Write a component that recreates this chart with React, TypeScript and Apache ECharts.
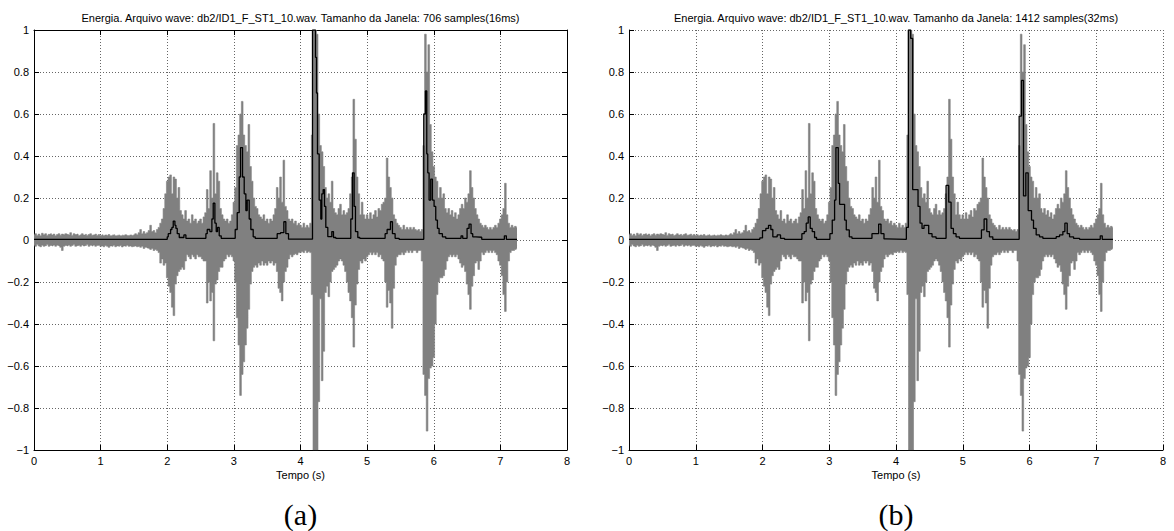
import React, { useEffect, useRef } from "react";
import * as echarts from "echarts";

// ---- data ----
const DT = 0.025; // seconds between envelope samples (starting at t = 0)

// upper envelope of the waveform (one value every DT seconds, 0 .. 7.25 s)
const WAVE_UPPER = [
  0.025, 0.03, 0.022, 0.028, 0.02, 0.032, 0.025, 0.03, 0.022, 0.027, 0.03, 0.024, 0.028, 0.02, 0.026, 0.03, 0.023, 0.028, 0.025, 0.03,
  0.027, 0.024, 0.035, 0.022, 0.03, 0.026, 0.028, 0.022, 0.025, 0.03, 0.024, 0.027, 0.022, 0.026, 0.03, 0.023, 0.025, 0.028, 0.022, 0.026,
  0.022, 0.025, 0.02, 0.024, 0.021, 0.026, 0.02, 0.023, 0.025, 0.02, 0.022, 0.024, 0.02, 0.023, 0.021, 0.025, 0.022, 0.02, 0.024, 0.022,
  0.025, 0.03, 0.025, 0.035, 0.05, 0.03, 0.04, 0.03, 0.035, 0.045, 0.07, 0.04, 0.045, 0.035, 0.05, 0.06, 0.08, 0.1, 0.15, 0.22,
  0.28, 0.3, 0.31, 0.22, 0.3, 0.29, 0.2, 0.25, 0.14, 0.12, 0.1, 0.14, 0.09, 0.1, 0.08, 0.12, 0.09, 0.1, 0.08, 0.09,
  0.1, 0.08, 0.11, 0.13, 0.24, 0.15, 0.33, 0.2, 0.555, 0.22, 0.32, 0.28, 0.15, 0.12, 0.1, 0.09, 0.1, 0.08, 0.09, 0.12,
  0.18, 0.25, 0.45, 0.5, 0.6, 0.66, 0.5, 0.45, 0.42, 0.55, 0.35, 0.28, 0.2, 0.16, 0.15, 0.12, 0.11, 0.1, 0.12, 0.09,
  0.1, 0.08, 0.1, 0.09, 0.12, 0.15, 0.25, 0.2, 0.3, 0.18, 0.38, 0.16, 0.14, 0.1, 0.09, 0.1, 0.08, 0.09, 0.07, 0.08,
  0.07, 0.06, 0.08, 0.06, 0.07, 0.06, 0.08, 0.5, 1.0, 1.0, 0.98, 0.6, 0.45, 0.42, 0.35, 0.25, 0.2, 0.22, 0.18, 0.28,
  0.15, 0.13, 0.12, 0.15, 0.17, 0.12, 0.14, 0.12, 0.13, 0.15, 0.22, 0.3, 0.67, 0.48, 0.3, 0.22, 0.12, 0.18, 0.12, 0.1,
  0.12, 0.1, 0.13, 0.1, 0.12, 0.14, 0.11, 0.15, 0.14, 0.17, 0.18, 0.2, 0.39, 0.3, 0.25, 0.2, 0.12, 0.1, 0.08, 0.07,
  0.06, 0.05, 0.07, 0.05, 0.06, 0.05, 0.06, 0.05, 0.06, 0.05, 0.045, 0.05, 0.04, 0.05, 0.45, 0.98, 0.8, 0.93, 0.55, 0.42,
  0.35, 0.3, 0.28, 0.2, 0.25, 0.2, 0.22, 0.15, 0.13, 0.15, 0.12, 0.14, 0.11, 0.13, 0.1, 0.12, 0.15, 0.17, 0.15, 0.2,
  0.18, 0.22, 0.33, 0.25, 0.2, 0.15, 0.12, 0.1, 0.08, 0.07, 0.06, 0.07, 0.06, 0.05, 0.06, 0.05, 0.06, 0.07, 0.06, 0.08,
  0.1, 0.12, 0.15, 0.27, 0.12, 0.08, 0.06, 0.07, 0.06, 0.065, 0.06,
];

// lower envelope of the waveform (same sampling)
const WAVE_LOWER = [
  -0.025, -0.03, -0.022, -0.028, -0.032, -0.025, -0.03, -0.027, -0.022, -0.03, -0.026, -0.028, -0.024, -0.03, -0.025, -0.028, -0.035, -0.05, -0.03, -0.026,
  -0.028, -0.024, -0.03, -0.026, -0.022, -0.03, -0.027, -0.025, -0.03, -0.024, -0.028, -0.026, -0.022, -0.03, -0.025, -0.028, -0.024, -0.03, -0.026, -0.025,
  -0.03, -0.028, -0.032, -0.026, -0.03, -0.035, -0.028, -0.03, -0.025, -0.032, -0.028, -0.03, -0.026, -0.033, -0.028, -0.03, -0.025, -0.03, -0.028, -0.032,
  -0.03, -0.028, -0.032, -0.03, -0.035, -0.03, -0.04, -0.035, -0.038, -0.04, -0.045, -0.04, -0.05, -0.045, -0.05, -0.06, -0.11, -0.09, -0.12, -0.11,
  -0.18, -0.22, -0.25, -0.32, -0.36, -0.21, -0.17, -0.15, -0.14, -0.13, -0.14, -0.1, -0.07, -0.08, -0.09, -0.07, -0.08, -0.09, -0.07, -0.08,
  -0.08, -0.09, -0.1, -0.1, -0.3, -0.2, -0.29, -0.25, -0.48, -0.21, -0.19, -0.15, -0.13, -0.13, -0.1, -0.09, -0.07, -0.08, -0.07, -0.08,
  -0.1, -0.2, -0.37, -0.5, -0.74, -0.64, -0.58, -0.5, -0.42, -0.33, -0.21, -0.15, -0.13, -0.12, -0.13, -0.11, -0.12, -0.1, -0.12, -0.11,
  -0.12, -0.1, -0.11, -0.1, -0.12, -0.11, -0.15, -0.23, -0.25, -0.29, -0.2, -0.15, -0.13, -0.09, -0.07, -0.08, -0.07, -0.065, -0.07, -0.06,
  -0.06, -0.055, -0.06, -0.05, -0.06, -0.055, -0.06, -0.26, -1, -1, -1, -0.77, -0.28, -0.67, -0.53, -0.25, -0.22, -0.27, -0.2, -0.15,
  -0.14, -0.13, -0.12, -0.1, -0.09, -0.1, -0.12, -0.15, -0.2, -0.25, -0.29, -0.37, -0.51, -0.31, -0.21, -0.14, -0.1, -0.11, -0.09, -0.1,
  -0.08, -0.07, -0.06, -0.07, -0.06, -0.07, -0.06, -0.08, -0.07, -0.09, -0.1, -0.2, -0.32, -0.24, -0.3, -0.42, -0.23, -0.12, -0.08, -0.07,
  -0.07, -0.06, -0.07, -0.06, -0.05, -0.06, -0.05, -0.06, -0.05, -0.05, -0.06, -0.05, -0.05, -0.1, -0.64, -0.74, -0.91, -0.66, -0.61, -0.6,
  -0.56, -0.4, -0.26, -0.2, -0.18, -0.18, -0.17, -0.14, -0.1, -0.08, -0.07, -0.08, -0.07, -0.08, -0.07, -0.09, -0.11, -0.13, -0.12, -0.15,
  -0.21, -0.26, -0.33, -0.22, -0.17, -0.11, -0.1, -0.14, -0.1, -0.06, -0.07, -0.06, -0.05, -0.06, -0.05, -0.06, -0.05, -0.06, -0.07, -0.1,
  -0.12, -0.17, -0.26, -0.34, -0.2, -0.1, -0.06, -0.05, -0.05, -0.045, -0.04,
];

// energy, window 706 samples (16 ms): step start times and values
const E16_T = [
  0, 2.0, 2.015, 2.05, 2.07, 2.09, 2.115, 2.13, 2.15, 2.18, 2.25, 2.28, 2.58, 2.6, 2.64, 2.67, 2.69, 2.715, 2.735, 2.755,
  2.78, 2.81, 3.02, 3.05, 3.08, 3.1, 3.13, 3.155, 3.18, 3.2, 3.23, 3.255, 3.29, 3.32, 3.65, 3.7, 3.75, 3.78, 3.82, 4.18,
  4.225, 4.24, 4.255, 4.28, 4.305, 4.32, 4.34, 4.36, 4.38, 4.41, 4.47, 4.495, 4.53, 4.755, 4.78, 4.805, 4.825, 4.86, 4.89, 5.27,
  5.3, 5.35, 5.38, 5.42, 5.48, 5.85, 5.875, 5.895, 5.91, 5.93, 5.955, 5.98, 6.005, 6.03, 6.055, 6.08, 6.13, 6.18, 6.41, 6.435,
  6.5, 6.53, 6.56, 6.585, 6.63, 6.72, 7.06, 7.09, 7.25,
];
const E16_V = [
  0.003, 0.015, 0.03, 0.05, 0.06, 0.09, 0.07, 0.055, 0.03, 0.012, 0.024, 0.008, 0.03, 0.05, 0.04, 0.1, 0.175, 0.08, 0.04, 0.06,
  0.02, 0.008, 0.05, 0.13, 0.3, 0.44, 0.3, 0.22, 0.14, 0.19, 0.1, 0.05, 0.015, 0.008, 0.03, 0.035, 0.087, 0.03, 0.004, 1.0,
  0.87, 0.7, 0.41, 0.19, 0.1, 0.22, 0.24, 0.16, 0.06, 0.016, 0.04, 0.012, 0.008, 0.1, 0.32, 0.16, 0.04, 0.012, 0.008, 0.03,
  0.05, 0.087, 0.03, 0.008, 0.003, 0.6, 0.71, 0.41, 0.32, 0.19, 0.29, 0.19, 0.16, 0.095, 0.055, 0.03, 0.015, 0.008, 0.02, 0.008,
  0.055, 0.076, 0.03, 0.015, 0.013, 0.003, 0.02, 0.003, 0.003,
];

// energy, window 1412 samples (32 ms): step start times and values
const E32_T = [
  0, 1.96, 2.0, 2.05, 2.09, 2.125, 2.155, 2.22, 2.27, 2.33, 2.59, 2.625, 2.655, 2.685, 2.715, 2.745, 2.78, 2.81, 3.01, 3.045,
  3.08, 3.1, 3.135, 3.155, 3.23, 3.255, 3.3, 3.34, 3.64, 3.74, 3.775, 3.82, 3.85, 4.155, 4.185, 4.22, 4.25, 4.33, 4.36, 4.39,
  4.42, 4.49, 4.54, 4.6, 4.75, 4.79, 4.825, 4.86, 4.9, 4.95, 5.28, 5.32, 5.36, 5.4, 5.45, 5.845, 5.88, 5.91, 5.945, 5.98,
  6.03, 6.06, 6.1, 6.15, 6.2, 6.4, 6.45, 6.5, 6.53, 6.565, 6.6, 6.66, 6.75, 7.06, 7.09, 7.25,
];
const E32_V = [
  0.003, 0.01, 0.045, 0.055, 0.07, 0.05, 0.015, 0.024, 0.008, 0.003, 0.03, 0.04, 0.08, 0.11, 0.055, 0.04, 0.012, 0.003, 0.03, 0.095,
  0.19, 0.44, 0.27, 0.17, 0.095, 0.048, 0.015, 0.008, 0.03, 0.076, 0.03, 0.005, 0.003, 0.06, 1.0, 0.96, 0.24, 0.16, 0.08, 0.055,
  0.07, 0.03, 0.015, 0.008, 0.26, 0.18, 0.055, 0.03, 0.015, 0.008, 0.048, 0.1, 0.04, 0.015, 0.003, 0.59, 0.76, 0.21, 0.32, 0.14,
  0.095, 0.055, 0.024, 0.015, 0.008, 0.016, 0.024, 0.04, 0.08, 0.03, 0.015, 0.008, 0.003, 0.02, 0.003, 0.003,
];

const TITLES = [
  "Energia. Arquivo wave: db2/ID1_F_ST1_10.wav. Tamanho da Janela: 706 samples(16ms)",
  "Energia. Arquivo wave: db2/ID1_F_ST1_10.wav. Tamanho da Janela: 1412 samples(32ms)",
];
const PANEL_LABELS = ["(a)", "(b)"];
const X_NAME = "Tempo (s)";

// ---- layout ----
const GRIDS = [
  { left: 34, top: 30, width: 533, height: 420 },
  { left: 629, top: 30, width: 534, height: 420 },
];
const SANS = '"Liberation Sans", Arial, Helvetica, sans-serif';
const GRAY = "#808080";

const fmtY = (v: number) => {
  const r = Math.round(v * 10) / 10;
  return r === 0 ? "0" : String(r).replace("-", "\u2212");
};

export default function App() {
  const ref = useRef<HTMLDivElement>(null);

  useEffect(() => {
    if (!ref.current) return;
    const chart = echarts.init(ref.current, null, { renderer: "svg" });

    const upper = WAVE_UPPER.map((v, i) => [i * DT, v]);
    const lower = WAVE_LOWER.map((v, i) => [i * DT, v]);
    const e16 = E16_T.map((t, i) => [t, E16_V[i]]);
    const e32 = E32_T.map((t, i) => [t, E32_V[i]]);

    const labelStyle = { color: "#000", fontSize: 11, fontFamily: SANS };
    const gridLine = { show: true, lineStyle: { color: "#666", width: 1, type: [1, 2] as any } };
    const axLine = { onZero: false, lineStyle: { color: "#000", width: 1 } };
    const tick = { inside: true, length: 5, lineStyle: { color: "#000", width: 1 } };

    const xMain = (g: number) => ({
      type: "value", gridIndex: g, min: 0, max: 8, interval: 1, position: "bottom",
      axisLine: axLine, axisTick: tick,
      axisLabel: { ...labelStyle, margin: 5 },
      splitLine: gridLine,
    });
    const yMain = (g: number) => ({
      type: "value", gridIndex: g, min: -1, max: 1, interval: 0.2, position: "left",
      axisLine: axLine, axisTick: tick,
      axisLabel: { ...labelStyle, margin: 5, formatter: fmtY },
      splitLine: gridLine,
    });

    const waveSeries = (g: number, data: number[][]) => ({
      type: "line", xAxisIndex: g === 0 ? 0 : 2, yAxisIndex: g === 0 ? 0 : 2,
      data, symbol: "none", showSymbol: false, smooth: false, step: "middle",
      lineStyle: { color: GRAY, width: 0.6 },
      areaStyle: { color: GRAY, opacity: 1, origin: "auto" },
      z: 2, silent: true,
    });
    const energySeries = (g: number, data: number[][]) => ({
      type: "line", xAxisIndex: g === 0 ? 0 : 2, yAxisIndex: g === 0 ? 0 : 2,
      data, step: "end", symbol: "none", showSymbol: false,
      lineStyle: { color: "#000", width: 1.3 },
      z: 3, silent: true,
    });

    const texts: any[] = [];
    GRIDS.forEach((g, i) => {
      const cx = g.left + g.width / 2;
      texts.push({
        type: "text", x: cx, y: 18,
        style: { text: TITLES[i], fill: "#000", font: `11px ${SANS}`, textAlign: "center", textVerticalAlign: "middle" },
      });
      texts.push({
        type: "text", x: cx, y: 475,
        style: { text: X_NAME, fill: "#000", font: `11px ${SANS}`, textAlign: "center", textVerticalAlign: "middle" },
      });
      texts.push({
        type: "text", x: cx, y: 514,
        style: { text: PANEL_LABELS[i], fill: "#000", font: `30px "Liberation Serif", "DejaVu Serif", serif`, textAlign: "center", textVerticalAlign: "middle" },
      });
    });

    chart.setOption({
      animation: false,
      backgroundColor: "#fff",
      grid: GRIDS.map((g) => ({ ...g, containLabel: false })),
      xAxis: [
        xMain(0),
        {
          type: "value", gridIndex: 0, min: 0, max: 8, interval: 1, position: "top",
          axisLine: axLine, axisTick: tick, axisLabel: { show: false }, splitLine: { show: false },
        },
        xMain(1),
      ],
      yAxis: [
        yMain(0),
        {
          type: "value", gridIndex: 0, min: -1, max: 1, interval: 0.2, position: "right",
          axisLine: axLine, axisTick: tick, axisLabel: { show: false }, splitLine: { show: false },
        },
        yMain(1),
      ],
      series: [
        waveSeries(0, upper),
        waveSeries(0, lower),
        energySeries(0, e16),
        waveSeries(1, upper),
        waveSeries(1, lower),
        energySeries(1, e32),
      ],
      graphic: texts,
    } as any);

    return () => chart.dispose();
  }, []);

  return (
    <div
      ref={ref}
      style={{ position: "fixed", left: 0, top: 0, width: 1174, height: 531, background: "#fff" }}
    />
  );
}
